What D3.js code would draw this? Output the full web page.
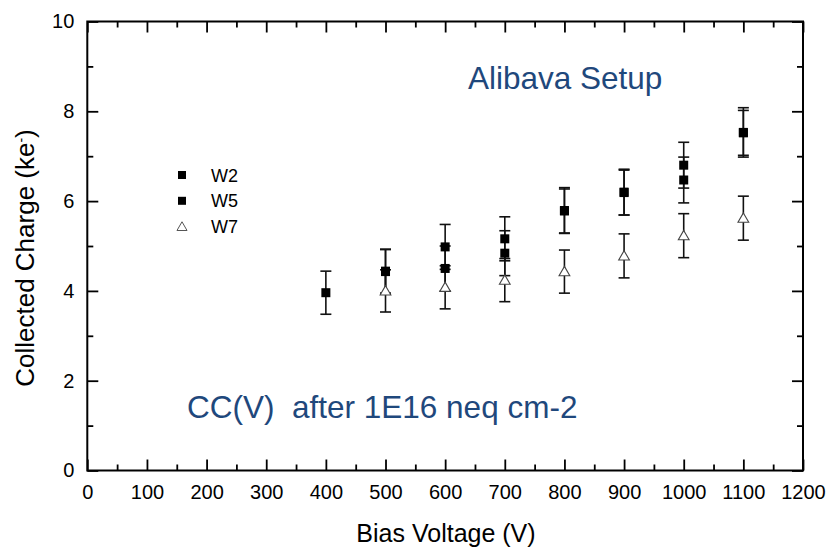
<!DOCTYPE html>
<html>
<head>
<meta charset="utf-8">
<script src="https://cdn.jsdelivr.net/npm/d3@7"></script>
<style>
 body { margin:0; background:#fff; }
 svg text { font-family: "Liberation Sans", Arial, sans-serif; }
</style>
</head>
<body>
<script>

// data
var volts = [400, 500, 600, 700, 800, 900, 1000, 1100];
var voltsW5 = [500, 600, 700, 800, 900, 1000, 1100];
var voltsW7 = [500, 600, 700, 800, 900, 1000, 1100];

var w2 = [3.96, 4.44, 4.98, 5.16, 5.79, 6.20, 6.80, 7.53];
var w2Err = [0.48, 0.49, 0.50, 0.49, 0.51, 0.51, 0.51, 0.55];

var w5 = [4.43, 4.50, 4.84, 5.78, 6.19, 6.47, 7.52];
var w5Err = [0.49, 0.50, 0.50, 0.49, 0.50, 0.51, 0.50];

var w7 = [4.00, 4.08, 4.24, 4.43, 4.78, 5.23, 5.62];
var w7Err = [0.47, 0.48, 0.48, 0.48, 0.49, 0.49, 0.49];

var xMajor = [0,100,200,300,400,500,600,700,800,900,1000,1100,1200];
var xMinor = [50,150,250,350,450,550,650,750,850,950,1050,1150];
var yMajor = [0,2,4,6,8,10];
var yMinor = [1,3,5,7,9];

var legendNames = ["W2", "W5", "W7"];

var w = 828, h = 547;
var pLeft = 87.3, pRight = 803, pTop = 21.5, pBottom = 470.5;
var blue = "#1f487c";

var svg = d3.select("body").append("svg")
	.attr("width", w)
	.attr("height", h);

var x = d3.scaleLinear().domain([0, 1200]).range([pLeft, pRight]);
var y = d3.scaleLinear().domain([0, 10]).range([pBottom, pTop]);

function styleAxis(g) {
	g.select(".domain").remove();
	g.selectAll("line").attr("stroke", "#000").attr("stroke-width", 1.8);
	g.selectAll("text").attr("fill", "#000").style("font-size", "20px");
}

// ticks, all pointing inward
svg.append("g").attr("transform", "translate(0," + pBottom + ")")
	.call(d3.axisBottom(x).tickValues(xMajor).tickSize(-11).tickPadding(14).tickFormat(d3.format("d")))
	.call(styleAxis);
svg.append("g").attr("transform", "translate(0," + pBottom + ")")
	.call(d3.axisBottom(x).tickValues(xMinor).tickSize(-6).tickFormat(""))
	.call(styleAxis);
svg.append("g").attr("transform", "translate(0," + pTop + ")")
	.call(d3.axisTop(x).tickValues(xMajor).tickSize(-11).tickFormat(""))
	.call(styleAxis);
svg.append("g").attr("transform", "translate(0," + pTop + ")")
	.call(d3.axisTop(x).tickValues(xMinor).tickSize(-6).tickFormat(""))
	.call(styleAxis);

svg.append("g").attr("transform", "translate(" + pLeft + ",0)")
	.call(d3.axisLeft(y).tickValues(yMajor).tickSize(-11).tickPadding(13).tickFormat(d3.format("d")))
	.call(styleAxis);
svg.append("g").attr("transform", "translate(" + pLeft + ",0)")
	.call(d3.axisLeft(y).tickValues(yMinor).tickSize(-6).tickFormat(""))
	.call(styleAxis);
svg.append("g").attr("transform", "translate(" + pRight + ",0)")
	.call(d3.axisRight(y).tickValues(yMajor).tickSize(-11).tickFormat(""))
	.call(styleAxis);
svg.append("g").attr("transform", "translate(" + pRight + ",0)")
	.call(d3.axisRight(y).tickValues(yMinor).tickSize(-6).tickFormat(""))
	.call(styleAxis);

// frame
svg.append("rect")
	.attr("x", pLeft).attr("y", pTop)
	.attr("width", pRight - pLeft).attr("height", pBottom - pTop)
	.attr("fill", "none").attr("stroke", "#000").attr("stroke-width", 2);

// axis titles
svg.append("text")
	.attr("x", 446).attr("y", 542)
	.attr("text-anchor", "middle")
	.style("font-size", "25px")
	.text("Bias Voltage (V)");

var yt = svg.append("text")
	.attr("transform", "translate(34,258) rotate(-90)")
	.attr("text-anchor", "middle")
	.style("font-size", "26px");
yt.append("tspan").text("Collected Charge (ke");
yt.append("tspan").attr("baseline-shift", "super").style("font-size", "14px").text("-");
yt.append("tspan").text(")");

// series
function series(xs, ys, errs) {
	return xs.map(function(v, i) { return {v: v, c: ys[i], e: errs[i]}; });
}
var sets = [
	{data: series(volts, w2, w2Err), tri: false},
	{data: series(voltsW5, w5, w5Err), tri: false},
	{data: series(voltsW7, w7, w7Err), tri: true}
];

var capW = 5.5;
sets.forEach(function(s) {
	var g = svg.append("g");
	var eb = g.selectAll("g.err").data(s.data).enter().append("g")
		.attr("stroke", "#111").attr("stroke-width", 1.6);
	eb.append("line")
		.attr("x1", function(d) { return x(d.v); }).attr("x2", function(d) { return x(d.v); })
		.attr("y1", function(d) { return y(d.c - d.e); }).attr("y2", function(d) { return y(d.c + d.e); });
	eb.append("line")
		.attr("x1", function(d) { return x(d.v) - capW; }).attr("x2", function(d) { return x(d.v) + capW; })
		.attr("y1", function(d) { return y(d.c + d.e); }).attr("y2", function(d) { return y(d.c + d.e); });
	eb.append("line")
		.attr("x1", function(d) { return x(d.v) - capW; }).attr("x2", function(d) { return x(d.v) + capW; })
		.attr("y1", function(d) { return y(d.c - d.e); }).attr("y2", function(d) { return y(d.c - d.e); });
});

var triPath = d3.symbol().type(d3.symbolTriangle).size(50);
sets.forEach(function(s) {
	var g = svg.append("g");
	if (s.tri) {
		g.selectAll("path").data(s.data).enter().append("path")
			.attr("d", triPath)
			.attr("transform", function(d) { return "translate(" + x(d.v) + "," + (y(d.c) + 1) + ")"; })
			.attr("fill", "#fff").attr("stroke", "#444").attr("stroke-width", 1.1);
	} else {
		g.selectAll("rect").data(s.data).enter().append("rect")
			.attr("x", function(d) { return x(d.v) - 4.5; })
			.attr("y", function(d) { return y(d.c) - 4.5; })
			.attr("width", 9).attr("height", 9)
			.attr("fill", "#000");
	}
});

// legend
var lg = svg.append("g");
legendNames.forEach(function(name, i) {
	var ly = 175 + i * 25.8;
	if (i < 2) {
		lg.append("rect").attr("x", 178).attr("y", ly - 4).attr("width", 8).attr("height", 8).attr("fill", "#000");
	} else {
		lg.append("path").attr("d", d3.symbol().type(d3.symbolTriangle).size(44))
			.attr("transform", "translate(182," + (ly + 1) + ")")
			.attr("fill", "#fff").attr("stroke", "#555").attr("stroke-width", 1);
	}
	lg.append("text").attr("x", 211).attr("y", ly + 6.5)
		.style("font-size", "18px").text(name);
});

// annotations
svg.append("text")
	.attr("x", 468).attr("y", 89)
	.attr("fill", blue)
	.style("font-size", "31.5px")
	.text("Alibava Setup");

svg.append("text")
	.attr("x", 187).attr("y", 418)
	.attr("fill", blue)
	.attr("xml:space", "preserve")
	.style("white-space", "pre")
	.style("font-size", "31.5px")
	.text("CC(V)  after 1E16 neq cm-2");

</script>
</body>
</html>
